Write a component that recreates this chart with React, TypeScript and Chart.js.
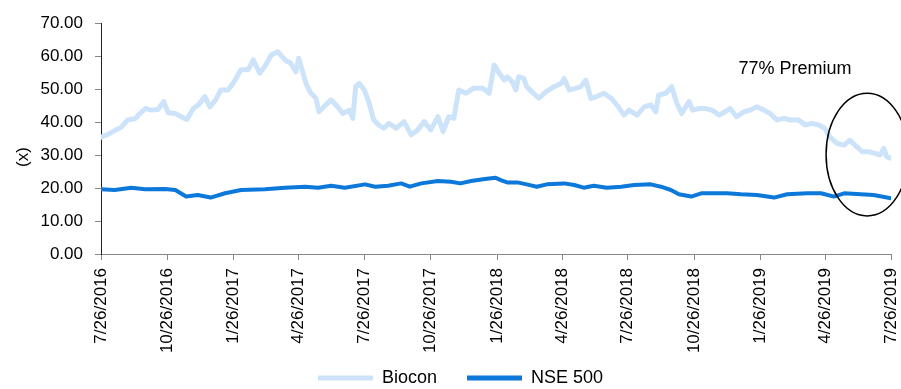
import React, { useEffect, useRef } from "react";
import { Chart, registerables } from "chart.js";

Chart.register(...registerables);

// Day offsets from 7/26/2016 for the date tick labels
const tickDays = [0, 92, 184, 274, 365, 457, 549, 639, 730, 822, 914, 1004, 1095];
const tickLabels = [
  "7/26/2016", "10/26/2016", "1/26/2017", "4/26/2017", "7/26/2017", "10/26/2017",
  "1/26/2018", "4/26/2018", "7/26/2018", "10/26/2018", "1/26/2019", "4/26/2019", "7/26/2019",
];

// [day offset since 7/26/2016, P/E multiple]
const bioconSeries: [number, number][] = [
  [0, 35.4], [10, 36.3], [19, 37.4], [28, 38.4], [37, 40.6], [47, 41], [54, 42.6], [62, 44.1],
  [69, 43.6], [79, 43.8], [87, 46.2], [93, 42.8], [103, 42.6], [111, 41.6], [119, 40.8], [128, 44.1],
  [135, 45.2], [144, 47.7], [151, 44.6], [159, 46.7], [166, 49.7], [176, 49.7], [183, 51.7], [194, 55.8],
  [204, 55.8], [211, 58.8], [220, 54.8], [227, 56.8], [236, 60.3], [245, 61.3], [255, 58.8], [263, 57.8],
  [270, 55.2], [274, 59.3], [280, 54.8], [284, 51.7], [291, 48.7], [298, 47.2], [302, 43.1], [309, 44.6],
  [319, 46.7], [328, 44.6], [335, 42.6], [344, 43.6], [349, 41.1], [353, 50.7], [358, 51.7], [365, 49.7],
  [371, 46.2], [378, 40.6], [385, 39.1], [392, 38.1], [399, 39.6], [409, 38.1], [420, 40.1], [430, 36.1],
  [439, 37.6], [448, 40.1], [457, 37.6], [467, 41.6], [474, 37.1], [482, 41.6], [489, 41.1], [496, 49.7],
  [506, 48.7], [516, 50.2], [529, 50.2], [538, 48.7], [545, 57.3], [552, 54.8], [559, 52.7], [563, 53.7],
  [570, 52.2], [575, 49.7], [579, 53.7], [586, 53.2], [590, 50.7], [597, 49.2], [607, 47.2], [617, 49.2],
  [628, 50.7], [638, 51.7], [642, 53.2], [649, 49.7], [658, 50.2], [665, 50.7], [672, 52.7], [679, 47.2],
  [687, 47.7], [697, 48.7], [707, 47.2], [715, 45.2], [725, 42.1], [732, 43.6], [743, 42.1], [753, 44.6],
  [762, 45.2], [769, 43.1], [773, 48.2], [783, 48.7], [791, 50.7], [798, 45.7], [805, 42.6], [815, 46.2],
  [820, 43.6], [829, 44.1], [837, 44.1], [847, 43.6], [857, 42.1], [865, 43.1], [872, 44.1], [881, 41.6],
  [891, 43.1], [900, 43.6], [909, 44.6], [919, 43.6], [927, 42.6], [937, 40.6], [947, 41.1], [955, 40.6],
  [967, 40.6], [976, 39.1], [985, 39.6], [995, 39.1], [1003, 38.1], [1010, 35.5], [1020, 33.5], [1030, 33.0],
  [1038, 34.5], [1045, 33.0], [1055, 31.0], [1064, 31.0], [1073, 30.5], [1080, 30.0], [1085, 32.0], [1089, 29.5],
  [1095, 29.0],
];

const nseSeries: [number, number][] = [
  [0, 19.6], [19, 19.4], [42, 20.1], [61, 19.6], [89, 19.7], [103, 19.4], [118, 17.4], [134, 17.9],
  [152, 17.1], [172, 18.4], [194, 19.4], [227, 19.6], [255, 20.1], [283, 20.4], [301, 20.1], [319, 20.7],
  [338, 20.1], [366, 21.1], [380, 20.4], [398, 20.7], [416, 21.4], [428, 20.4], [444, 21.4], [467, 22.1],
  [485, 21.9], [498, 21.4], [513, 22.1], [532, 22.7], [547, 23.1], [554, 22.4], [563, 21.7], [577, 21.7],
  [590, 21.1], [604, 20.4], [618, 21.1], [642, 21.4], [656, 20.9], [669, 20.1], [683, 20.7], [701, 20.1],
  [721, 20.4], [739, 20.9], [762, 21.1], [776, 20.4], [790, 19.4], [801, 18.1], [818, 17.4], [832, 18.4],
  [850, 18.4], [868, 18.4], [887, 18.1], [909, 17.9], [933, 17.1], [951, 18.1], [979, 18.4], [998, 18.4],
  [1016, 17.4], [1030, 18.4], [1053, 18.1], [1071, 17.9], [1095, 16.9],
];

const seriesNames = ["Biocon", "NSE 500"];
const annotationText = "77% Premium";
const yAxisTitle = "(x)";

const FONT = "'Liberation Sans', Arial, sans-serif";

const annotationPlugin = {
  id: "premiumNote",
  afterDraw(chart: any) {
    const { ctx, scales } = chart;
    const xs = scales.x;
    const ys = scales.y;
    ctx.save();
    ctx.fillStyle = "#000";
    ctx.font = `17px ${FONT}`;
    ctx.textAlign = "center";
    ctx.textBaseline = "middle";
    ctx.translate(23, 157);
    ctx.rotate(-Math.PI / 2);
    ctx.fillText(yAxisTitle, 0, 0);
    ctx.restore();

    ctx.save();
    ctx.fillStyle = "#000";
    ctx.font = `18px ${FONT}`;
    ctx.textAlign = "center";
    ctx.textBaseline = "middle";
    ctx.fillText(annotationText, xs.getPixelForValue(962), ys.getPixelForValue(56));
    const cx = xs.getPixelForValue(1062);
    const cy = ys.getPixelForValue(30.15);
    const rx = xs.getPixelForValue(1062 + 57) - cx;
    const ry = cy - ys.getPixelForValue(30.15 + 18.6);
    ctx.beginPath();
    ctx.ellipse(cx, cy, rx, ry, 0, 0, Math.PI * 2);
    ctx.strokeStyle = "#000";
    ctx.lineWidth = 1.5;
    ctx.stroke();
    ctx.restore();
  },
};

export default function App() {
  const canvasRef = useRef<HTMLCanvasElement | null>(null);

  useEffect(() => {
    document.body.style.margin = "0";
    const canvas = canvasRef.current;
    if (!canvas) return;
    const chart = new Chart(canvas, {
      type: "line",
      data: {
        datasets: [
          {
            label: seriesNames[0],
            data: bioconSeries.map(([x, y]) => ({ x, y })),
            borderColor: "#cde3fa",
            backgroundColor: "#cde3fa",
            borderWidth: 5,
            pointRadius: 0,
            tension: 0,
            borderJoinStyle: "round",
            borderCapStyle: "round",
          },
          {
            label: seriesNames[1],
            data: nseSeries.map(([x, y]) => ({ x, y })),
            borderColor: "#0b78da",
            backgroundColor: "#0b78da",
            borderWidth: 4,
            pointRadius: 0,
            tension: 0,
            borderJoinStyle: "round",
            borderCapStyle: "round",
          },
        ],
      },
      options: {
        animation: false,
        responsive: false,
        devicePixelRatio: 1,
        layout: { padding: { top: 23, right: 10, left: 30, bottom: -8 } },
        plugins: {
          tooltip: { enabled: false },
          legend: {
            position: "bottom",
            labels: {
              font: { family: FONT, size: 18 },
              color: "#000",
              boxWidth: 55,
              boxHeight: 5,
              padding: 30,
              generateLabels: (chart: any) =>
                Chart.defaults.plugins.legend.labels.generateLabels(chart).map((l: any) => ({
                  ...l,
                  lineWidth: 0,
                  fillStyle: l.strokeStyle,
                })),
            },
          },
        },
        scales: {
          x: {
            type: "linear",
            min: 0,
            max: 1095,
            afterBuildTicks: (s: any) => {
              s.ticks = tickDays.map((v) => ({ value: v }));
            },
            afterFit: (s: any) => {
              s.height = 85;
              s.paddingRight = 0;
              s.paddingLeft = 0;
              s._computeLabelArea = () => undefined;
            },
            ticks: {
              autoSkip: false,
              maxRotation: 90,
              minRotation: 90,
              padding: 8,
              color: "#000",
              font: { family: FONT, size: 17 },
              callback: (v: any) => {
                const i = tickDays.indexOf(Number(v));
                return i >= 0 ? tickLabels[i] : "";
              },
            },
            grid: { drawOnChartArea: false, tickLength: 6, color: "#888" },
            border: { color: "#888", width: 1 },
          },
          y: {
            min: 0,
            max: 70,
            afterFit: (s: any) => {
              s.width = 71;
            },
            ticks: {
              stepSize: 10,
              padding: 12,
              color: "#000",
              font: { family: FONT, size: 17 },
              callback: (v: any) => Number(v).toFixed(2),
            },
            grid: { drawOnChartArea: false, tickLength: 6, color: "#888" },
            border: { color: "#222", width: 1 },
          },
        },
      } as any,
      plugins: [annotationPlugin],
    });
    return () => chart.destroy();
  }, []);

  return (
    <div style={{ position: "absolute", left: 0, top: 0, width: 901, height: 389, background: "#fff" }}>
      <canvas ref={canvasRef} width={901} height={389} style={{ width: 901, height: 389, display: "block" }} />
    </div>
  );
}
